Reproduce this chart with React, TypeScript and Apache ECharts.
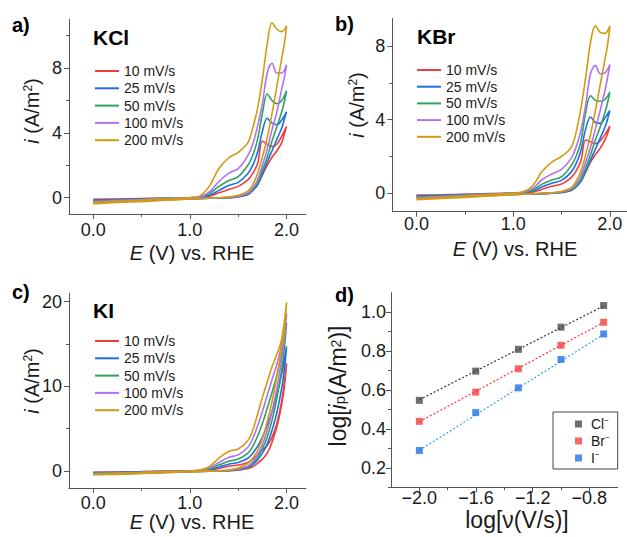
import React, { useEffect, useRef } from "react";
import * as echarts from "echarts";

// ---------- data ----------
const SCAN_RATES = ["10 mV/s", "25 mV/s", "50 mV/s", "100 mV/s", "200 mV/s"];
const CV_COLORS = ["#ef3d3d", "#1f6fe3", "#2ea35f", "#b072ef", "#d29b12"];

// potential grid (V vs. RHE) of the forward and reverse sweeps
const E_FWD = [0, 0.25, 0.5, 0.75, 1.0, 1.1, 1.2, 1.3, 1.4, 1.5, 1.6, 1.65, 1.7, 1.75, 1.8, 1.85, 1.9, 1.95, 2.0];
const E_REV = [1.98, 1.95, 1.9, 1.85, 1.8, 1.75, 1.7, 1.65, 1.6, 1.5, 1.4, 1.3, 1.2, 1.0, 0.75, 0.5, 0.25, 0];

// KCl current density (A/m2), one row per scan rate
const KCL_FWD = [
  [-0.1, -0.08, -0.05, -0.02, 0, 0.02, 0.08, 0.3, 0.5, 0.7, 1.1, 1.5, 2.1, 3.5, 3.3, 3.15, 3.3, 3.8, 4.4],
  [-0.15, -0.11, -0.07, -0.03, 0, 0.03, 0.15, 0.45, 0.75, 0.95, 1.5, 2.0, 2.8, 4.1, 4.9, 4.6, 4.5, 4.8, 5.3],
  [-0.2, -0.15, -0.1, -0.04, 0, 0.04, 0.25, 0.7, 1.05, 1.3, 2.0, 2.6, 3.6, 5.2, 6.4, 6.0, 5.8, 6.0, 6.6],
  [-0.25, -0.18, -0.12, -0.05, 0, 0.05, 0.35, 1.0, 1.5, 1.8, 2.6, 3.3, 4.4, 5.8, 7.7, 8.3, 7.7, 7.7, 8.2],
  [-0.3, -0.22, -0.15, -0.07, 0, 0.1, 0.7, 1.8, 2.45, 2.8, 3.4, 4.3, 5.5, 7.3, 9.5, 10.8, 10.4, 10.25, 10.6],
];
const KCL_REV = [
  [4.0, 3.4, 2.9, 2.5, 2.0, 1.4, 0.8, 0.45, 0.2, 0.05, 0, -0.02, -0.03, -0.05, -0.08, -0.1, -0.12, -0.15],
  [4.9, 4.3, 3.6, 2.9, 2.2, 1.5, 0.8, 0.45, 0.2, 0.06, 0, -0.02, -0.03, -0.06, -0.1, -0.13, -0.16, -0.2],
  [6.0, 5.3, 4.4, 3.5, 2.5, 1.7, 0.9, 0.5, 0.25, 0.07, 0.01, -0.02, -0.03, -0.07, -0.12, -0.17, -0.21, -0.25],
  [7.5, 6.7, 5.3, 4.2, 3.0, 2.0, 1.1, 0.6, 0.3, 0.1, 0.02, -0.01, -0.03, -0.08, -0.14, -0.2, -0.25, -0.3],
  [9.6, 8.6, 6.9, 5.2, 3.7, 2.5, 1.5, 0.8, 0.4, 0.15, 0.05, 0, -0.02, -0.08, -0.16, -0.24, -0.3, -0.38],
];

// KBr
const KBR_FWD = [
  [-0.1, -0.08, -0.05, -0.02, 0, 0.02, 0.06, 0.22, 0.38, 0.5, 0.85, 1.2, 1.75, 2.9, 2.8, 2.7, 2.85, 3.2, 3.65],
  [-0.15, -0.11, -0.07, -0.03, 0, 0.03, 0.12, 0.35, 0.55, 0.7, 1.15, 1.6, 2.3, 3.5, 4.15, 3.85, 3.8, 4.1, 4.5],
  [-0.2, -0.15, -0.1, -0.04, 0, 0.04, 0.18, 0.5, 0.72, 0.9, 1.5, 2.0, 2.8, 4.4, 5.3, 5.05, 5.0, 5.1, 5.5],
  [-0.25, -0.18, -0.12, -0.05, 0, 0.05, 0.25, 0.75, 1.05, 1.3, 1.9, 2.5, 3.4, 4.8, 6.5, 6.95, 6.5, 6.55, 7.0],
  [-0.3, -0.22, -0.15, -0.07, 0, 0.08, 0.4, 1.2, 1.7, 2.0, 2.5, 3.3, 4.6, 6.3, 8.2, 9.1, 8.75, 8.7, 9.1],
];
const KBR_REV = [
  [3.3, 2.9, 2.45, 2.1, 1.7, 1.15, 0.65, 0.35, 0.15, 0.04, 0, -0.02, -0.03, -0.05, -0.08, -0.1, -0.12, -0.14],
  [4.1, 3.6, 3.0, 2.4, 1.8, 1.2, 0.65, 0.35, 0.16, 0.05, 0, -0.02, -0.03, -0.05, -0.09, -0.12, -0.15, -0.19],
  [5.0, 4.4, 3.6, 2.9, 2.1, 1.4, 0.75, 0.4, 0.2, 0.06, 0.01, -0.02, -0.03, -0.06, -0.11, -0.16, -0.2, -0.24],
  [6.4, 5.6, 4.5, 3.5, 2.5, 1.7, 0.95, 0.5, 0.25, 0.08, 0.02, -0.01, -0.03, -0.07, -0.13, -0.19, -0.24, -0.28],
  [8.2, 7.3, 5.9, 4.5, 3.2, 2.1, 1.2, 0.65, 0.3, 0.1, 0.03, 0, -0.02, -0.08, -0.15, -0.22, -0.28, -0.35],
];

// KI
const KI_FWD = [
  [-0.15, -0.12, -0.08, -0.03, 0, 0.03, 0.1, 0.3, 0.55, 0.7, 1.0, 1.4, 1.9, 2.5, 3.0, 4.0, 5.6, 8.3, 12.7],
  [-0.2, -0.16, -0.11, -0.05, 0, 0.04, 0.15, 0.45, 0.8, 1.0, 1.5, 2.1, 2.9, 4.0, 5.4, 7.0, 9.0, 11.5, 14.7],
  [-0.25, -0.2, -0.14, -0.06, 0, 0.05, 0.25, 0.7, 1.15, 1.4, 2.1, 2.9, 4.1, 5.6, 7.4, 9.3, 11.3, 14.0, 17.5],
  [-0.3, -0.24, -0.17, -0.07, 0, 0.07, 0.35, 1.0, 1.6, 1.9, 2.8, 3.8, 5.3, 7.0, 8.9, 10.8, 12.6, 15.0, 18.6],
  [-0.35, -0.28, -0.2, -0.08, 0, 0.1, 0.5, 1.5, 2.3, 2.6, 3.6, 4.8, 6.7, 8.7, 10.5, 12.3, 13.8, 15.6, 19.9],
];
const KI_REV = [
  [10.2, 7.9, 5.2, 3.4, 2.1, 1.4, 0.9, 0.5, 0.3, 0.1, 0.02, 0, -0.02, -0.06, -0.11, -0.16, -0.2, -0.25],
  [12.3, 9.8, 6.9, 4.8, 3.2, 2.1, 1.3, 0.75, 0.4, 0.15, 0.04, 0, -0.02, -0.07, -0.14, -0.2, -0.25, -0.3],
  [14.8, 12.0, 8.6, 6.0, 4.0, 2.6, 1.6, 0.9, 0.5, 0.2, 0.05, 0, -0.02, -0.08, -0.16, -0.24, -0.3, -0.35],
  [16.0, 13.2, 9.8, 7.0, 4.8, 3.1, 1.9, 1.1, 0.6, 0.25, 0.07, 0.01, -0.02, -0.09, -0.18, -0.27, -0.35, -0.4],
  [17.0, 14.5, 11.2, 8.2, 5.8, 3.8, 2.4, 1.5, 0.9, 0.35, 0.1, 0.02, -0.02, -0.1, -0.2, -0.3, -0.4, -0.45],
];

// panel d: log of peak current vs log of scan rate
const LOG_SCAN = [-2.0, -1.602, -1.301, -1.0, -0.699];
const LOG_IP_CL = [0.547, 0.697, 0.809, 0.923, 1.034];
const LOG_IP_BR = [0.439, 0.589, 0.709, 0.83, 0.948];
const LOG_IP_I = [0.289, 0.484, 0.611, 0.757, 0.888];
const FIT_CL = [[-2.0, 0.55], [-0.699, 1.032]];
const FIT_BR = [[-2.0, 0.437], [-0.699, 0.948]];
const FIT_I = [[-2.0, 0.29], [-0.699, 0.886]];
const HALIDES = ["Cl", "Br", "I"];
const HALIDE_COLORS = ["#4a4a4a", "#f0413f", "#1f74e6"];
const FIT_COLORS = ["#333333", "#ff3434", "#35a6ef"];

// tick values
const E_TICKS = [0, 1, 2];
const E_MINOR = [0.5, 1.5];
const I_TICKS_AB = [0, 4, 8];
const I_MINOR_A = [2, 6, 10];
const I_MINOR_B = [2, 6];
const I_TICKS_C = [0, 10, 20];
const I_MINOR_C = [5, 15];
const LOGV_TICKS = [-2.0, -1.6, -1.2, -0.8];
const LOGV_MINOR = [-1.8, -1.4, -1.0];
const LOGI_TICKS = [0.2, 0.4, 0.6, 0.8, 1.0];
const LOGI_MINOR = [0.1, 0.3, 0.5, 0.7, 0.9];

// ---------- styling ----------
const FONT = "'Liberation Sans', Arial, sans-serif";
const TXT = "#1a1a1a";
const AX = "#555555";

function loop(fwd: number[], rev: number[]) {
  return [
    ...E_FWD.map((e, k) => [e, fwd[k]]),
    ...E_REV.map((e, k) => [e, rev[k]]),
  ];
}

const fmt1 = (v: number) => (v < 0 ? "\u2212" : "") + Math.abs(v).toFixed(1);
const fmt0 = (v: number) => String(Math.round(v));

function mainX(gi: number, min: number, max: number, ticks: number[], fmt: any, margin: number) {
  return {
    type: "value", gridIndex: gi, min, max, position: "bottom",
    axisLine: { show: true, onZero: false, lineStyle: { color: AX, width: 1 } },
    axisTick: { show: true, inside: false, length: 5, customValues: ticks, lineStyle: { color: AX } },
    axisLabel: { customValues: ticks, formatter: fmt, margin, fontSize: 18, lineHeight: 16, color: TXT, fontFamily: FONT },
    splitLine: { show: false },
  };
}
function minorX(gi: number, min: number, max: number, ticks: number[]) {
  return {
    type: "value", gridIndex: gi, min, max, position: "bottom",
    axisLine: { show: false, onZero: false },
    axisTick: { show: true, inside: false, length: 3, customValues: ticks, lineStyle: { color: AX } },
    axisLabel: { show: false },
    splitLine: { show: false },
  };
}
function mainY(gi: number, min: number, max: number, ticks: number[], fmt: any, margin: number) {
  return {
    type: "value", gridIndex: gi, min, max, position: "left",
    axisLine: { show: true, onZero: false, lineStyle: { color: AX, width: 1 } },
    axisTick: { show: true, inside: false, length: 5, customValues: ticks, lineStyle: { color: AX } },
    axisLabel: { customValues: ticks, formatter: fmt, margin, fontSize: 18, lineHeight: 16, color: TXT, fontFamily: FONT },
    splitLine: { show: false },
  };
}
function minorY(gi: number, min: number, max: number, ticks: number[]) {
  return {
    type: "value", gridIndex: gi, min, max, position: "left",
    axisLine: { show: false, onZero: false },
    axisTick: { show: true, inside: false, length: 3, customValues: ticks, lineStyle: { color: AX } },
    axisLabel: { show: false },
    splitLine: { show: false },
  };
}

function cvSeries(panel: number, fwd: number[][], rev: number[][]) {
  return SCAN_RATES.map((name, k) => ({
    type: "line",
    name,
    xAxisIndex: panel * 2,
    yAxisIndex: panel * 2,
    data: loop(fwd[k], rev[k]),
    smooth: 0.35,
    symbol: "none",
    lineStyle: { color: CV_COLORS[k], width: 1.6 },
    itemStyle: { color: CV_COLORS[k] },
    z: 2 + k,
  }));
}

function cvLegend(left: number, top: number, gap: number) {
  return {
    orient: "vertical", left, top, padding: 0,
    icon: "rect", itemWidth: 24, itemHeight: 2, itemGap: gap,
    textStyle: { fontSize: 14, lineHeight: 15, color: TXT, fontFamily: FONT },
    data: SCAN_RATES,
  };
}

const rich = {
  n: { fontSize: 20, fontFamily: FONT, color: TXT, lineHeight: 20 },
  it: { fontSize: 20, fontFamily: FONT, color: TXT, fontStyle: "italic", lineHeight: 20 },
  sup: { fontSize: 12, fontFamily: FONT, color: TXT, verticalAlign: "top", lineHeight: 12 },
  sub: { fontSize: 13, fontFamily: FONT, color: TXT, verticalAlign: "bottom", lineHeight: 12 },
};
const richBig = {
  n: { fontSize: 23, fontFamily: FONT, color: TXT, lineHeight: 18 },
  it: { fontSize: 23, fontFamily: FONT, color: TXT, fontStyle: "italic", lineHeight: 18 },
  sup: { fontSize: 14, fontFamily: FONT, color: TXT, verticalAlign: "top", lineHeight: 10 },
  sub: { fontSize: 15, fontFamily: FONT, color: TXT, verticalAlign: "bottom", lineHeight: 10 },
};

function label(x: number, y: number, text: string, size: number) {
  return {
    type: "text", x, y,
    style: { text, fontSize: size, fontWeight: "bold", fontFamily: FONT, fill: "#000", align: "left", verticalAlign: "middle" },
  };
}
function axisTitle(x: number, y: number, text: string, rot: number, r: any) {
  return {
    type: "text", x, y, rotation: rot,
    style: { text, rich: r, fontSize: 20, fontFamily: FONT, fill: TXT, align: "center", verticalAlign: "middle" },
  };
}

export default function App() {
  const ref = useRef<HTMLDivElement>(null);
  useEffect(() => {
    const chart = echarts.init(ref.current!, null, { renderer: "svg" });
    const grids = [
      { left: 69, top: 19.5, width: 236.9, height: 194.4, outerBoundsMode: "none" },
      { left: 392.3, top: 18.5, width: 236.9, height: 193.2, outerBoundsMode: "none" },
      { left: 69, top: 293.1, width: 236.9, height: 194.8, outerBoundsMode: "none" },
      { left: 391, top: 292.7, width: 226.7, height: 194.6, outerBoundsMode: "none" },
    ];
    const xAxis = [
      mainX(0, -0.25, 2.2, E_TICKS, fmt1, 8), minorX(0, -0.25, 2.2, E_MINOR),
      mainX(1, -0.25, 2.2, E_TICKS, fmt1, 4), minorX(1, -0.25, 2.2, E_MINOR),
      mainX(2, -0.25, 2.2, E_TICKS, fmt1, 7), minorX(2, -0.25, 2.2, E_MINOR),
      mainX(3, -2.2, -0.6, LOGV_TICKS, fmt1, 3), minorX(3, -2.2, -0.6, LOGV_MINOR),
    ];
    const yAxis = [
      mainY(0, -1, 11, I_TICKS_AB, fmt0, 7), minorY(0, -1, 11, I_MINOR_A),
      mainY(1, -1, 9.5, I_TICKS_AB, fmt0, 7), minorY(1, -1, 9.5, I_MINOR_B),
      mainY(2, -2, 21, I_TICKS_C, fmt0, 7), minorY(2, -2, 21, I_MINOR_C),
      mainY(3, 0.1, 1.1, LOGI_TICKS, fmt1, 5), minorY(3, 0.1, 1.1, LOGI_MINOR),
    ];
    const logIp = [LOG_IP_CL, LOG_IP_BR, LOG_IP_I];
    const fits = [FIT_CL, FIT_BR, FIT_I];
    const dSeries: any[] = [];
    HALIDES.forEach((h, k) => {
      dSeries.push({
        type: "line", name: h + " fit", xAxisIndex: 6, yAxisIndex: 6,
        data: fits[k], symbol: "none",
        lineStyle: { color: FIT_COLORS[k], width: 1.2, type: [2, 2] }, z: 2,
      });
      dSeries.push({
        type: "scatter", name: h, xAxisIndex: 6, yAxisIndex: 6,
        data: LOG_SCAN.map((x, j) => [x, logIp[k][j]]),
        symbol: "rect", symbolSize: 7,
        itemStyle: { color: HALIDE_COLORS[k] }, z: 3,
      });
    });

    const option: any = {
      animation: false,
      backgroundColor: "#ffffff",
      grid: grids,
      xAxis,
      yAxis,
      legend: [
        cvLegend(95, 63.5, 2.3),
        cvLegend(417, 62.5, 1.7),
        cvLegend(95, 333.5, 2.3),
        {
          orient: "vertical", left: 553, top: 412, padding: [4, 8, 4, 22],
          borderColor: "#444", borderWidth: 1,
          icon: "rect", itemWidth: 7, itemHeight: 7, itemGap: 2,
          data: HALIDES,
          formatter: (n: string) => `{n|${n}}{s|\u2212}`,
          textStyle: {
            color: TXT, fontFamily: FONT, fontSize: 14, padding: [0, 0, 0, 4],
            rich: {
              n: { fontSize: 14, fontFamily: FONT, color: TXT, lineHeight: 16 },
              s: { fontSize: 8, fontFamily: FONT, color: TXT, verticalAlign: "top", lineHeight: 10 },
            },
          },
        },
      ],
      graphic: [
        label(12, 25, "a)", 20),
        label(335, 24, "b)", 20),
        label(12, 292, "c)", 20),
        label(335, 295, "d)", 20),
        label(93, 37.5, "KCl", 21),
        label(417, 36, "KBr", 21),
        label(93, 310, "KI", 21),
        axisTitle(192, 253, "{it|E}{n| (V) vs. RHE}", 0, rich),
        axisTitle(515, 249, "{it|E}{n| (V) vs. RHE}", 0, rich),
        axisTitle(192, 522, "{it|E}{n| (V) vs. RHE}", 0, rich),
        axisTitle(517, 520, "{n|log[\u03bd(V/s)]}", 0, richBig),
        axisTitle(32, 111, "{it|i}{n| (A/m}{sup|2}{n|)}", Math.PI / 2, rich),
        axisTitle(357, 105, "{it|i}{n| (A/m}{sup|2}{n|)}", Math.PI / 2, rich),
        axisTitle(32, 381, "{it|i}{n| (A/m}{sup|2}{n|)}", Math.PI / 2, rich),
        axisTitle(338, 386, "{n|log[}{it|i}{sub|p}{n|(A/m}{sup|2}{n|)]}", Math.PI / 2, richBig),
      ],
      series: [
        ...cvSeries(0, KCL_FWD, KCL_REV),
        ...cvSeries(1, KBR_FWD, KBR_REV),
        ...cvSeries(2, KI_FWD, KI_REV),
        ...dSeries,
      ],
    };
    chart.setOption(option);
    return () => chart.dispose();
  }, []);
  return (
    <div
      ref={ref}
      style={{ position: "absolute", left: 0, top: 0, width: 627, height: 537 }}
    />
  );
}
